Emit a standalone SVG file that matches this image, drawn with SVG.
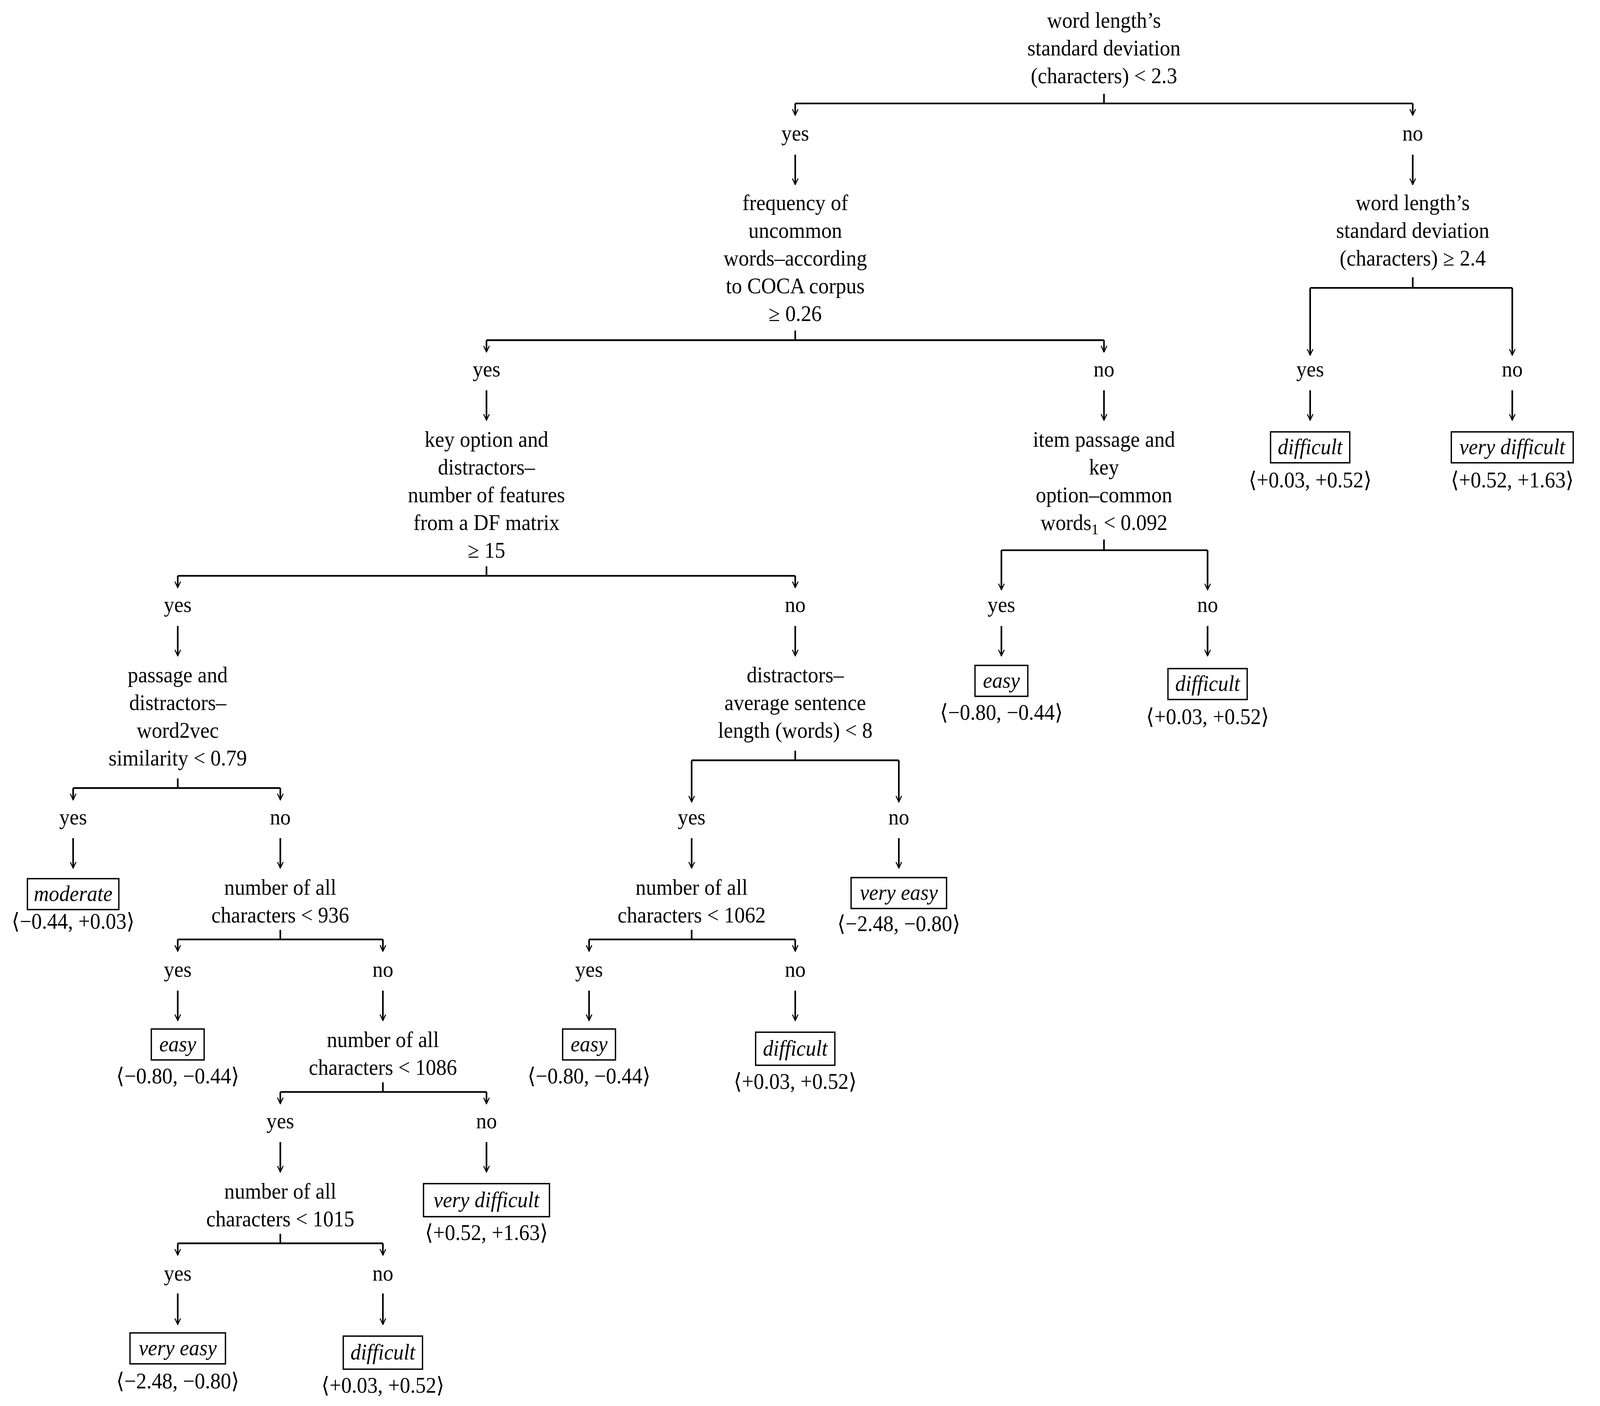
<svg xmlns="http://www.w3.org/2000/svg" width="4281" height="3600" viewBox="0 0 4281 3600">
<style>
text{font-family:"Liberation Serif","DejaVu Serif",serif;font-size:20.5px;fill:#000;text-anchor:middle}
.i{font-style:italic}
.c line{stroke:#000;stroke-width:1.6;fill:none}
.b{fill:none;stroke:#000;stroke-width:1.3}
</style>
<defs>
<marker id="a" viewBox="0 0 10 10" refX="9" refY="5" markerWidth="7" markerHeight="7" markerUnits="userSpaceOnUse" orient="auto"><path d="M1,1 L9,5 L1,9" fill="none" stroke="#000" stroke-width="1.4"/></marker>
</defs>
<rect x="0" y="0" width="4281" height="3600" fill="#fff"/>
<g transform="scale(2.6,2.7303)">
<g class="c" id="connectors">
<line x1="1087" y1="88" x2="1087" y2="97"/><line x1="783" y1="97" x2="1391" y2="97"/><line x1="783" y1="97" x2="783" y2="108" marker-end="url(#a)"/><line x1="1391" y1="97" x2="1391" y2="108" marker-end="url(#a)"/>
<line x1="783" y1="145" x2="783" y2="173" marker-end="url(#a)"/><line x1="1391" y1="145" x2="1391" y2="173" marker-end="url(#a)"/>
<line x1="783" y1="310" x2="783" y2="319"/><line x1="479" y1="319" x2="1087" y2="319"/><line x1="479" y1="319" x2="479" y2="330" marker-end="url(#a)"/><line x1="1087" y1="319" x2="1087" y2="330" marker-end="url(#a)"/>
<line x1="479" y1="366" x2="479" y2="394" marker-end="url(#a)"/><line x1="1087" y1="366" x2="1087" y2="394" marker-end="url(#a)"/>
<line x1="1391" y1="260" x2="1391" y2="270"/><line x1="1290" y1="270" x2="1489" y2="270"/><line x1="1290" y1="270" x2="1290" y2="333" marker-end="url(#a)"/><line x1="1489" y1="270" x2="1489" y2="333" marker-end="url(#a)"/>
<line x1="1290" y1="366" x2="1290" y2="394" marker-end="url(#a)"/><line x1="1489" y1="366" x2="1489" y2="394" marker-end="url(#a)"/>
<line x1="479" y1="531" x2="479" y2="540"/><line x1="175" y1="540" x2="783" y2="540"/><line x1="175" y1="540" x2="175" y2="551" marker-end="url(#a)"/><line x1="783" y1="540" x2="783" y2="551" marker-end="url(#a)"/>
<line x1="175" y1="587" x2="175" y2="615" marker-end="url(#a)"/><line x1="783" y1="587" x2="783" y2="615" marker-end="url(#a)"/>
<line x1="1087" y1="506" x2="1087" y2="516"/><line x1="986" y1="516" x2="1189" y2="516"/><line x1="986" y1="516" x2="986" y2="553" marker-end="url(#a)"/><line x1="1189" y1="516" x2="1189" y2="553" marker-end="url(#a)"/>
<line x1="986" y1="587" x2="986" y2="615" marker-end="url(#a)"/><line x1="1189" y1="587" x2="1189" y2="615" marker-end="url(#a)"/>
<line x1="175" y1="730" x2="175" y2="739"/><line x1="72" y1="739" x2="276" y2="739"/><line x1="72" y1="739" x2="72" y2="750" marker-end="url(#a)"/><line x1="276" y1="739" x2="276" y2="750" marker-end="url(#a)"/>
<line x1="72" y1="786" x2="72" y2="814" marker-end="url(#a)"/><line x1="276" y1="786" x2="276" y2="814" marker-end="url(#a)"/>
<line x1="783" y1="704" x2="783" y2="713"/><line x1="681" y1="713" x2="885" y2="713"/><line x1="681" y1="713" x2="681" y2="752" marker-end="url(#a)"/><line x1="885" y1="713" x2="885" y2="752" marker-end="url(#a)"/>
<line x1="681" y1="786" x2="681" y2="814" marker-end="url(#a)"/><line x1="885" y1="786" x2="885" y2="814" marker-end="url(#a)"/>
<line x1="276" y1="872" x2="276" y2="881"/><line x1="175" y1="881" x2="377" y2="881"/><line x1="175" y1="881" x2="175" y2="892" marker-end="url(#a)"/><line x1="377" y1="881" x2="377" y2="892" marker-end="url(#a)"/>
<line x1="175" y1="929" x2="175" y2="957" marker-end="url(#a)"/><line x1="377" y1="929" x2="377" y2="957" marker-end="url(#a)"/>
<line x1="681" y1="872" x2="681" y2="881"/><line x1="580" y1="881" x2="783" y2="881"/><line x1="580" y1="881" x2="580" y2="892" marker-end="url(#a)"/><line x1="783" y1="881" x2="783" y2="892" marker-end="url(#a)"/>
<line x1="580" y1="929" x2="580" y2="957" marker-end="url(#a)"/><line x1="783" y1="929" x2="783" y2="957" marker-end="url(#a)"/>
<line x1="377" y1="1015" x2="377" y2="1024"/><line x1="276" y1="1024" x2="479" y2="1024"/><line x1="276" y1="1024" x2="276" y2="1035" marker-end="url(#a)"/><line x1="479" y1="1024" x2="479" y2="1035" marker-end="url(#a)"/>
<line x1="276" y1="1071" x2="276" y2="1099" marker-end="url(#a)"/><line x1="479" y1="1071" x2="479" y2="1099" marker-end="url(#a)"/>
<line x1="276" y1="1157" x2="276" y2="1166"/><line x1="175" y1="1166" x2="377" y2="1166"/><line x1="175" y1="1166" x2="175" y2="1177" marker-end="url(#a)"/><line x1="377" y1="1166" x2="377" y2="1177" marker-end="url(#a)"/>
<line x1="175" y1="1213" x2="175" y2="1242" marker-end="url(#a)"/><line x1="377" y1="1213" x2="377" y2="1242" marker-end="url(#a)"/>
</g>
<g id="labels">
<text x="783" y="132">yes</text><text x="1391" y="132">no</text>
<text x="479" y="353">yes</text><text x="1087" y="353">no</text>
<text x="1290" y="353">yes</text><text x="1489" y="353">no</text>
<text x="175" y="574">yes</text><text x="783" y="574">no</text>
<text x="986" y="574">yes</text><text x="1189" y="574">no</text>
<text x="72" y="773">yes</text><text x="276" y="773">no</text>
<text x="681" y="773">yes</text><text x="885" y="773">no</text>
<text x="175" y="916">yes</text><text x="377" y="916">no</text>
<text x="580" y="916">yes</text><text x="783" y="916">no</text>
<text x="276" y="1058">yes</text><text x="479" y="1058">no</text>
<text x="175" y="1201">yes</text><text x="377" y="1201">no</text>
</g>
<g id="n_root"><text x="1087" y="26">word length’s</text><text x="1087" y="52">standard deviation</text><text x="1087" y="78">(characters) &lt; 2.3</text></g>
<g id="n_freq"><text x="783" y="197">frequency of</text><text x="783" y="223">uncommon</text><text x="783" y="249">words–according</text><text x="783" y="275">to COCA corpus</text><text x="783" y="301">≥ 0.26</text></g>
<g id="n_wl24"><text x="1391" y="197">word length’s</text><text x="1391" y="223">standard deviation</text><text x="1391" y="249">(characters) ≥ 2.4</text></g>
<g id="n_key"><text x="479" y="419">key option and</text><text x="479" y="445">distractors–</text><text x="479" y="471">number of features</text><text x="479" y="497">from a DF matrix</text><text x="479" y="523">≥ 15</text></g>
<g id="n_item"><text x="1087" y="419">item passage and</text><text x="1087" y="445">key</text><text x="1087" y="471">option–common</text><text x="1087" y="497">words<tspan font-size="14" dy="4">1</tspan><tspan dy="-4"> &lt; 0.092</tspan></text></g>
<g id="n_passage"><text x="175" y="640">passage and</text><text x="175" y="666">distractors–</text><text x="175" y="692">word2vec</text><text x="175" y="718">similarity &lt; 0.79</text></g>
<g id="n_dist"><text x="783" y="640">distractors–</text><text x="783" y="666">average sentence</text><text x="783" y="692">length (words) &lt; 8</text></g>
<g id="n_936"><text x="276" y="839">number of all</text><text x="276" y="865">characters &lt; 936</text></g>
<g id="n_1062"><text x="681" y="839">number of all</text><text x="681" y="865">characters &lt; 1062</text></g>
<g id="n_1086"><text x="377" y="982">number of all</text><text x="377" y="1008">characters &lt; 1086</text></g>
<g id="n_1015"><text x="276" y="1124">number of all</text><text x="276" y="1150">characters &lt; 1015</text></g>
<g id="l_diff1"><rect class="b" x="1251" y="405" width="78" height="29"/><text class="i" x="1290" y="426">difficult</text><text x="1290" y="457">⟨+0.03, +0.52⟩</text></g>
<g id="l_vdiff1"><rect class="b" x="1429" y="405" width="120" height="29"/><text class="i" x="1489" y="426">very difficult</text><text x="1489" y="457">⟨+0.52, +1.63⟩</text></g>
<g id="l_easy1"><rect class="b" x="960" y="624" width="52" height="29"/><text class="i" x="986" y="645">easy</text><text x="986" y="675">⟨−0.80, −0.44⟩</text></g>
<g id="l_diff2"><rect class="b" x="1150" y="627" width="78" height="29"/><text class="i" x="1189" y="648">difficult</text><text x="1189" y="679">⟨+0.03, +0.52⟩</text></g>
<g id="l_mod"><rect class="b" x="27" y="824" width="90" height="29"/><text class="i" x="72" y="845">moderate</text><text x="72" y="871">⟨−0.44, +0.03⟩</text></g>
<g id="l_veasy1"><rect class="b" x="838" y="823" width="94" height="29"/><text class="i" x="885" y="844">very easy</text><text x="885" y="873">⟨−2.48, −0.80⟩</text></g>
<g id="l_easy2"><rect class="b" x="149" y="965" width="52" height="29"/><text class="i" x="175" y="986">easy</text><text x="175" y="1016">⟨−0.80, −0.44⟩</text></g>
<g id="l_easy3"><rect class="b" x="554" y="965" width="52" height="29"/><text class="i" x="580" y="986">easy</text><text x="580" y="1016">⟨−0.80, −0.44⟩</text></g>
<g id="l_diff3"><rect class="b" x="744" y="968" width="78" height="31"/><text class="i" x="783" y="990">difficult</text><text x="783" y="1021">⟨+0.03, +0.52⟩</text></g>
<g id="l_vdiff2"><rect class="b" x="417" y="1110" width="124" height="31"/><text class="i" x="479" y="1132">very difficult</text><text x="479" y="1163">⟨+0.52, +1.63⟩</text></g>
<g id="l_veasy2"><rect class="b" x="128" y="1250" width="94" height="29"/><text class="i" x="175" y="1271">very easy</text><text x="175" y="1302">⟨−2.48, −0.80⟩</text></g>
<g id="l_diff4"><rect class="b" x="338" y="1253" width="78" height="31"/><text class="i" x="377" y="1275">difficult</text><text x="377" y="1306">⟨+0.03, +0.52⟩</text></g>
</g>
</svg>
